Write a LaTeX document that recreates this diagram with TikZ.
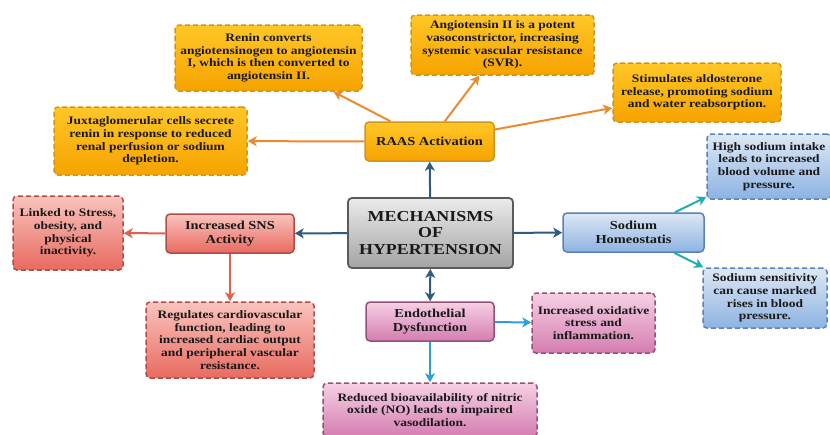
\documentclass[tikz,border=0pt]{standalone}
\usepackage{fontspec}
\setmainfont[FakeStretch=1.18]{Liberation Serif}
\usetikzlibrary{arrows.meta,positioning}

\definecolor{orangetop}{HTML}{FFC727}
\definecolor{orangebot}{HTML}{F6A300}
\definecolor{orangeline}{HTML}{CF951C}
\definecolor{graytop}{HTML}{EBEBEB}
\definecolor{graybot}{HTML}{A3A3A3}
\definecolor{grayline}{HTML}{5A5A5A}
\definecolor{redtop}{HTML}{F9C4BE}
\definecolor{redbot}{HTML}{E86A60}
\definecolor{redline}{HTML}{B04C48}
\definecolor{bluetop}{HTML}{DDE8F5}
\definecolor{bluebot}{HTML}{8DB3E2}
\definecolor{blueline}{HTML}{5A82BC}
\definecolor{pinktop}{HTML}{F6D0E4}
\definecolor{pinkbot}{HTML}{D47DB0}
\definecolor{pinkline}{HTML}{955078}
\definecolor{darkarrow}{HTML}{2F5B7E}
\definecolor{orangearrow}{HTML}{E98B2F}
\definecolor{redarrow}{HTML}{E0604F}
\definecolor{tealarrow}{HTML}{20AFB0}
\definecolor{lightarrow}{HTML}{2C9FD6}

\tikzstyle{arrow} = [line width=2pt,->,>={Stealth[length=9pt,width=10pt,inset=2.5pt]}]
\tikzstyle{box} = [rounded corners=4pt, align=center, inner sep=2pt, line width=1.5pt, text=black!90, font=\bfseries\fontsize{11.4}{12.6}\selectfont]
\tikzstyle{sub} = [box, dash pattern=on 5pt off 3pt]
\tikzstyle{mid} = [box, font=\bfseries\fontsize{12.2}{14}\selectfont, minimum width=128pt, minimum height=39pt]

\begin{document}
\begin{tikzpicture}[x=1pt,y=-1pt]
\tikzstyle{orangesub} = [sub, draw=orangeline, top color=orangetop, bottom color=orangebot]
\tikzstyle{redsub} = [sub, draw=redline, top color=redtop, bottom color=redbot]
\tikzstyle{bluesub} = [sub, draw=blueline, top color=bluetop, bottom color=bluebot]
\tikzstyle{pinksub} = [sub, draw=pinkline, top color=pinktop, bottom color=pinkbot]
\useasboundingbox (0,0) rectangle (830,434);

% centre
\node[box, draw=grayline, line width=1.8pt, top color=graytop, bottom color=graybot, minimum width=165pt, minimum height=70pt, font=\bfseries\fontsize{15.2}{16.5}\selectfont] (mech) at (430.5,233) {MECHANISMS\\OF\\HYPERTENSION};

% RAAS
\node[mid, draw=orangeline, top color=orangetop, bottom color=orangebot, minimum width=129pt] (raas) at (429.5,141.5) {RAAS Activation};
\node[orangesub, minimum width=187pt, minimum height=66pt] (renin) at (268.5,58) {Renin converts\\angiotensinogen to angiotensin\\I, which is then converted to\\angiotensin II.};
\node[orangesub, minimum width=183pt, minimum height=60pt] (angio) at (502.5,45) {Angiotensin II is a potent\\vasoconstrictor, increasing\\systemic vascular resistance\\(SVR).};
\node[orangesub, minimum width=168pt, minimum height=59pt] (aldo) at (697,92.5) {Stimulates aldosterone\\release, promoting sodium\\and water reabsorption.};
\node[orangesub, minimum width=193pt, minimum height=68pt] (juxta) at (150.5,141) {Juxtaglomerular cells secrete\\renin in response to reduced\\renal perfusion or sodium\\depletion.};

% SNS
\node[mid, draw=redline, top color=redtop, bottom color=redbot] (sns) at (230,233.5) {Increased SNS\\Activity};
\node[redsub, minimum width=110pt, minimum height=74pt] (stress) at (68,233) {Linked to Stress,\\obesity, and\\physical\\inactivity.};
\node[redsub, minimum width=168pt, minimum height=76pt] (regul) at (230,340) {Regulates cardiovascular\\function, leading to\\increased cardiac output\\and peripheral vascular\\resistance.};

% sodium
\node[mid, draw=blueline, top color=bluetop, bottom color=bluebot, minimum width=141pt] (sodium) at (633.5,232.5) {Sodium\\Homeostatis};
\node[bluesub, minimum width=124pt, minimum height=65pt] (highna) at (769,166.5) {High sodium intake\\leads to increased\\blood volume and\\pressure.};
\node[bluesub, minimum width=124pt, minimum height=60pt] (nasens) at (765,298) {Sodium sensitivity\\can cause marked\\rises in blood\\pressure.};

% endothelium
\node[mid, draw=pinkline, top color=pinktop, bottom color=pinkbot] (endo) at (430,321.5) {Endothelial\\Dysfunction};
\node[pinksub, minimum width=123pt, minimum height=60pt] (oxid) at (593.5,323) {Increased oxidative\\stress and\\inflammation.};
\node[pinksub, minimum width=214pt, minimum height=54pt] (nitric) at (430,410) {Reduced bioavailability of nitric\\oxide (NO) leads to impaired\\vasodilation.};

\draw[arrow, darkarrow] (mech) -- (raas);
\draw[arrow, darkarrow] (mech) -- (sns);
\draw[arrow, darkarrow] (mech) -- (sodium);
\draw[arrow, darkarrow, <->] (mech) -- (endo);

\draw[arrow, orangearrow] (raas) -- (renin);
\draw[arrow, orangearrow] (raas) -- (angio);
\draw[arrow, orangearrow] (raas) -- (aldo);
\draw[arrow, orangearrow] (raas) -- (juxta);

\draw[arrow, redarrow] (sns) -- (stress);
\draw[arrow, redarrow] (sns) -- (regul);

\draw[arrow, tealarrow] (sodium) -- (highna);
\draw[arrow, tealarrow] (sodium) -- (nasens);

\draw[arrow, lightarrow] (endo) -- (oxid);
\draw[arrow, lightarrow] (endo) -- (nitric);
\end{tikzpicture}
\end{document}
